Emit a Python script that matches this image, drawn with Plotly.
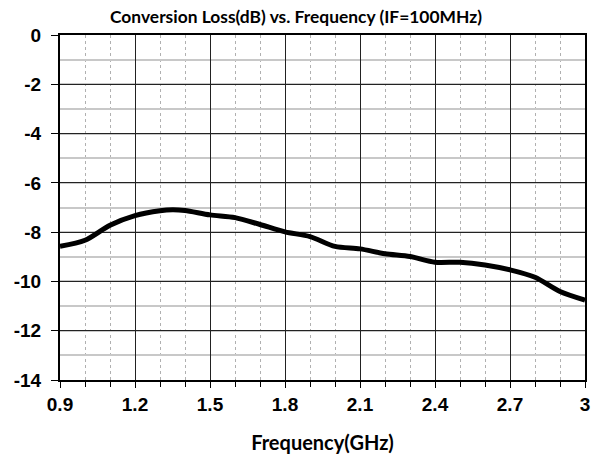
import plotly.graph_objects as go

freq_ghz = [0.9, 1.0, 1.1, 1.2, 1.3, 1.35, 1.4, 1.5, 1.6, 1.7, 1.8, 1.9, 2.0, 2.1, 2.2, 2.3, 2.4, 2.5, 2.6, 2.7, 2.8, 2.9, 3.0]
conv_loss_db = [-8.57, -8.33, -7.72, -7.33, -7.13, -7.09, -7.12, -7.30, -7.41, -7.69, -7.99, -8.18, -8.58, -8.68, -8.88, -8.99, -9.22, -9.22, -9.33, -9.53, -9.83, -10.41, -10.76]

x_ticks = [0.9, 1.2, 1.5, 1.8, 2.1, 2.4, 2.7, 3.0]
x_tick_text = ["0.9", "1.2", "1.5", "1.8", "2.1", "2.4", "2.7", "3"]
y_ticks = [0, -2, -4, -6, -8, -10, -12, -14]
y_tick_text = ["0", "-2", "-4", "-6", "-8", "-10", "-12", "-14"]

fig = go.Figure()
fig.add_trace(go.Scatter(
    x=freq_ghz, y=conv_loss_db, mode="lines",
    line=dict(color="black", width=5, shape="spline", smoothing=0.8),
    showlegend=False,
))

fig.update_layout(
    width=592, height=454,
    margin=dict(l=60, r=7, t=35, b=74, autoexpand=False),
    paper_bgcolor="white", plot_bgcolor="white",
    title=dict(text="<b>Conversion Loss(dB) vs. Frequency (IF=100MHz)</b>",
               x=0.5, xanchor="center", y=1 - 17 / 454, yanchor="middle",
               font=dict(family="Lato", size=17.4, color="black")),
    xaxis=dict(
        range=[0.9, 3.0], tickvals=x_ticks, ticktext=x_tick_text,
        automargin=False,
        showgrid=True, gridcolor="#222222", gridwidth=1,
        showline=True, linecolor="black", linewidth=2, mirror=True,
        ticks="outside", ticklen=6, tickcolor="black", tickwidth=1,
        tickfont=dict(family="Liberation Sans", size=19, color="black", weight="bold"),
        minor=dict(dtick=0.1, tick0=0.9, showgrid=True, gridcolor="#b0b0b0", griddash="dot",
                   gridwidth=1, ticks="outside", ticklen=5, tickcolor="black"),
        title=dict(text="<b>Frequency(GHz)</b>", standoff=22,
                   font=dict(family="Lato", size=20, color="black")),
        zeroline=False,
    ),
    yaxis=dict(
        range=[-14, 0], tickvals=y_ticks, ticktext=y_tick_text,
        automargin=False,
        showgrid=True, gridcolor="#222222", gridwidth=1,
        showline=True, linecolor="black", linewidth=2, mirror=True,
        ticks="outside", ticklen=7, tickcolor="black", tickwidth=1,
        ticklabelstandoff=6,
        tickfont=dict(family="Liberation Sans", size=19, color="black", weight="bold"),
        minor=dict(dtick=1, tick0=0, showgrid=True, gridcolor="#c8c8c8", gridwidth=1.5,
                   ticks=""),
        zeroline=False,
    ),
)

fig.write_html("out.html")
